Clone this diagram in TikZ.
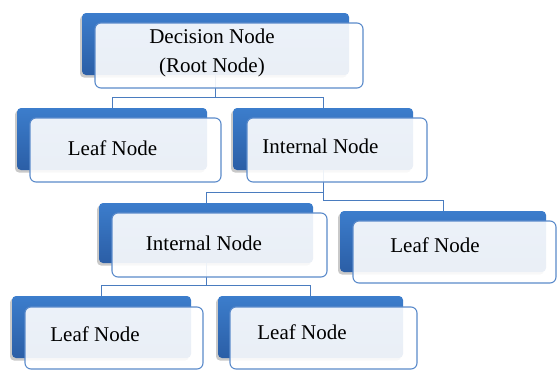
\documentclass[tikz,border=0pt]{standalone}
\usepackage{fontspec}
\setmainfont{Liberation Serif}
\usetikzlibrary{shadows}
\definecolor{boxtop}{HTML}{3C7DCC}
\definecolor{boxbot}{HTML}{2B5EA6}
\definecolor{rim}{HTML}{5B8BCB}
\definecolor{wire}{HTML}{4A7CBF}
\begin{document}
\begin{tikzpicture}[x=1pt,y=-1pt,
		backbox/.style={rectangle,rounded corners=4pt,inner sep=0pt,top color=boxtop,bottom color=boxbot,draw=none,
			drop shadow={shadow xshift=-2pt,shadow yshift=-2.5pt,opacity=.3,fill=black!70}},
		frontbox/.style={rectangle,rounded corners=6pt,inner sep=0pt,draw=rim,line width=1.1pt,fill=white,fill opacity=.9},
		link/.style={draw=wire,line width=.8pt},
		lbl/.style={font=\fontsize{21}{29}\selectfont,inner sep=0pt,align=center}]
	\useasboundingbox (0,0) rectangle (557,370);
	% back boxes
	\node[backbox,minimum width=267pt,minimum height=62pt] (root-b) at (215.5,44) {};
	\node[backbox,minimum width=190pt,minimum height=62pt] (leafa-b) at (112,139) {};
	\node[backbox,minimum width=180pt,minimum height=62pt] (inta-b) at (323,139) {};
	\node[backbox,minimum width=214pt,minimum height=60pt] (intb-b) at (206,233) {};
	\node[backbox,minimum width=206pt,minimum height=61pt] (leafb-b) at (443,241.5) {};
	\node[backbox,minimum width=179pt,minimum height=62pt] (leafc-b) at (101.5,327) {};
	\node[backbox,minimum width=185pt,minimum height=62pt] (leafd-b) at (310.5,327) {};
	% connectors
	\draw[link] (root-b.south) |- ([yshift=10pt]leafa-b.north) -- (leafa-b.north);
	\draw[link] (root-b.south) |- ([yshift=10pt]inta-b.north) -- (inta-b.north);
	\draw[link] (inta-b.south) |- ([yshift=10pt]intb-b.north) -- (intb-b.north);
	\draw[link] (inta-b.south) |- ([yshift=10pt]leafb-b.north) -- (leafb-b.north);
	\draw[link] (intb-b.south) |- ([yshift=10pt]leafc-b.north) -- (leafc-b.north);
	\draw[link] (intb-b.south) |- ([yshift=10pt]leafd-b.north) -- (leafd-b.north);
	% front boxes
	\node[frontbox,minimum width=268pt,minimum height=65pt] (root) at (229,55.5) {};
	\node[frontbox,minimum width=191pt,minimum height=64pt] (leafa) at (125.5,150) {};
	\node[frontbox,minimum width=180pt,minimum height=64pt] (inta) at (337,150) {};
	\node[frontbox,minimum width=215pt,minimum height=64pt] (intb) at (219.5,245) {};
	\node[frontbox,minimum width=203pt,minimum height=62pt] (leafb) at (454.5,252) {};
	\node[frontbox,minimum width=178pt,minimum height=62pt] (leafc) at (114,338) {};
	\node[frontbox,minimum width=187pt,minimum height=62pt] (leafd) at (323.5,338) {};
	% texts
	\node[lbl] (root-t) at (212,52.5) {Decision Node\\(Root Node)};
	\node[lbl,anchor=base] (leafa-t) at (112.5,155) {Leaf Node};
	\node[lbl,anchor=base] (inta-t) at (320.5,153) {Internal Node};
	\node[lbl,anchor=base] (intb-t) at (204,250) {Internal Node};
	\node[lbl,anchor=base] (leafb-t) at (435,252.5) {Leaf Node};
	\node[lbl,anchor=base] (leafc-t) at (95,341.5) {Leaf Node};
	\node[lbl,anchor=base] (leafd-t) at (302,339) {Leaf Node};
\end{tikzpicture}
\end{document}
